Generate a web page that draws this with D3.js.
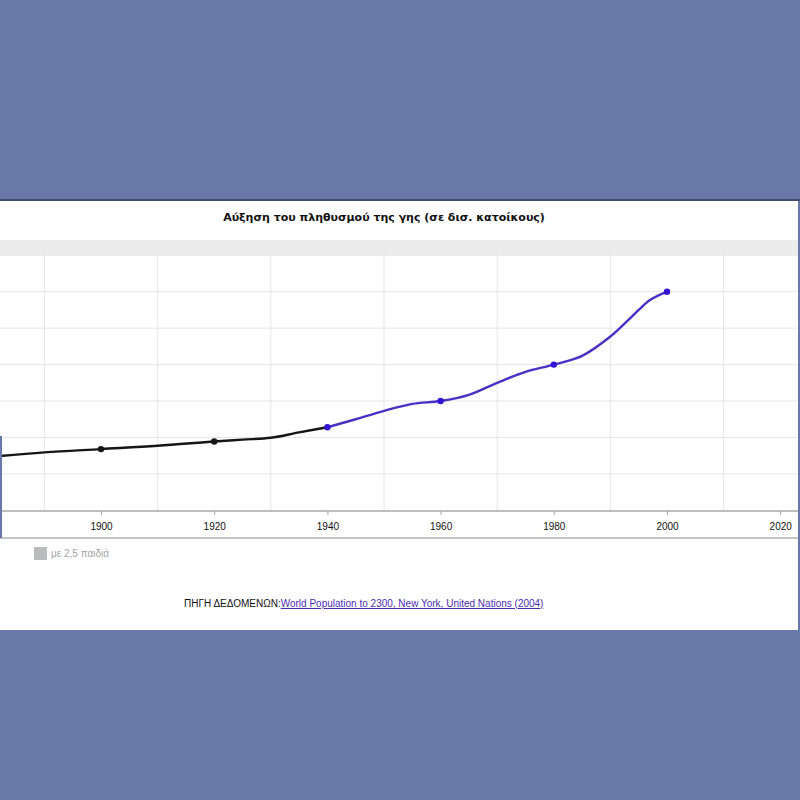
<!DOCTYPE html>
<html>
<head>
<meta charset="utf-8">
<script src="https://cdn.jsdelivr.net/npm/d3@7"></script>
<style>
  body { margin: 0; background: #6878a8; }
  svg { display: block; }
</style>
</head>
<body>
<svg id="chart" width="800" height="800"></svg>
<script>
  // population in billions
  let years = [1880, 1890, 1900, 1910, 1920, 1925, 1930, 1935, 1940, 1945, 1950, 1955, 1960, 1965, 1970, 1975, 1980, 1985, 1990, 1993, 1995, 1997, 2000]
  let population = [1.46, 1.59, 1.68, 1.77, 1.89, 1.94, 1.99, 2.14, 2.28, 2.50, 2.73, 2.92, 3.0, 3.17, 3.50, 3.80, 4.0, 4.24, 4.77, 5.20, 5.50, 5.77, 6.0]
  let markerYears = [1900, 1920, 1940, 1960, 1980, 2000]
  let tickYears = [1900, 1920, 1940, 1960, 1980, 2000, 2020]
  let gridYears = [1890, 1910, 1930, 1950, 1970, 1990, 2010]
  let gridValues = [1, 2, 3, 4, 5, 6]
  let splitYear = 1940

  let title = 'Αύξηση του πληθυσμού της γης (σε δισ. κατοίκους)'
  let legendLabel = 'με 2,5 παιδιά'
  let sourceLabel = 'ΠΗΓΗ ΔΕΔΟΜΕΝΩΝ:'
  let sourceLink = 'World Population to 2300, New York, United Nations (2004)'

  let data = years.map((y, i) => ({ year: y, value: population[i] }))

  let svg = d3.select('#chart')
  let font = '"DejaVu Sans", Verdana, sans-serif'

  // white panel
  svg.append('rect').attr('x', 0).attr('y', 199).attr('width', 800).attr('height', 2).attr('fill', '#3f4a6e')
  svg.append('rect').attr('x', 0).attr('y', 201).attr('width', 798).attr('height', 429).attr('fill', '#fff')

  svg.append('text')
    .attr('x', 384).attr('y', 221)
    .attr('text-anchor', 'middle')
    .style('font', 'bold 11px ' + font)
    .attr('fill', '#111')
    .text(title)

  svg.append('rect').attr('x', 0).attr('y', 240).attr('width', 798).attr('height', 16).attr('fill', '#ebebeb')

  let plotTop = 256, plotBottom = 511
  let x = d3.scaleLinear().domain([1900, 2000]).range([101, 667])
  let y = d3.scaleLinear().domain([0, 7]).range([510.3, 255.3])

  let plot = svg.append('g')
  svg.append('clipPath').attr('id', 'clip')
    .append('rect').attr('x', 0).attr('y', plotTop).attr('width', 800).attr('height', plotBottom - plotTop)

  plot.selectAll('.hgrid')
    .data(gridValues)
    .enter()
    .append('line')
    .attr('x1', 0).attr('x2', 798)
    .attr('y1', d => y(d)).attr('y2', d => y(d))
    .attr('stroke', '#e6e6e6')

  plot.selectAll('.vgrid')
    .data(gridYears)
    .enter()
    .append('line')
    .attr('x1', d => x(d)).attr('x2', d => x(d))
    .attr('y1', 252).attr('y2', plotBottom)
    .attr('stroke', '#e6e6e6')

  let line = d3.line()
    .x(d => x(d.year))
    .y(d => y(d.value))
    .curve(d3.curveCatmullRom.alpha(0.5))

  let series = plot.append('g').attr('clip-path', 'url(#clip)')
  series.append('path')
    .datum(data.filter(d => d.year <= splitYear))
    .attr('d', line)
    .attr('fill', 'none')
    .attr('stroke', '#161616')
    .attr('stroke-width', 2.4)
  series.append('path')
    .datum(data.filter(d => d.year >= splitYear))
    .attr('d', line)
    .attr('fill', 'none')
    .attr('stroke', '#4a30c4')
    .attr('stroke-width', 2.4)

  series.selectAll('.dot')
    .data(data.filter(d => markerYears.includes(d.year)))
    .enter()
    .append('circle')
    .attr('cx', d => x(d.year))
    .attr('cy', d => y(d.value))
    .attr('r', 3.2)
    .attr('fill', d => d.year < splitYear ? '#161616' : '#3414d4')

  // x axis
  let axis = svg.append('g')
    .attr('transform', `translate(0,${plotBottom})`)
    .call(d3.axisBottom(x).tickValues(tickYears).tickFormat(d3.format('d')).tickSize(4).tickPadding(8))
  axis.select('.domain').remove()
  axis.append('line').attr('x1', 0).attr('x2', 798).attr('stroke', '#a8a8a8').attr('stroke-width', 1.5)
  axis.selectAll('.tick line').attr('stroke', '#a8a8a8')
  axis.selectAll('.tick text').attr('fill', '#111').style('font', '10px "Liberation Sans", Tahoma, sans-serif')

  svg.append('line').attr('x1', 0).attr('x2', 798).attr('y1', 538).attr('y2', 538).attr('stroke', '#8a8a8a')

  // page border pieces showing at the edges
  svg.append('line').attr('x1', 1).attr('x2', 1).attr('y1', 436).attr('y2', 538).attr('stroke', '#6878a8').attr('stroke-width', 2)
  svg.append('line').attr('x1', 799).attr('x2', 799).attr('y1', 490).attr('y2', 630).attr('stroke', '#6878a8').attr('stroke-width', 2)

  // legend
  svg.append('rect').attr('x', 34).attr('y', 547).attr('width', 13).attr('height', 13).attr('fill', '#b8bcbc')
  svg.append('text')
    .attr('x', 51).attr('y', 557)
    .style('font', '10px "Liberation Sans", Tahoma, sans-serif')
    .attr('fill', '#a4a4a4')
    .text(legendLabel)

  // source
  let src = svg.append('text')
    .attr('x', 184).attr('y', 607)
    .style('font', '10px "Liberation Sans", Tahoma, sans-serif')
  src.append('tspan').attr('fill', '#111').text(sourceLabel)
  src.append('tspan').attr('fill', '#4b2cb4').attr('text-decoration', 'underline').text(sourceLink)
</script>
</body>
</html>
